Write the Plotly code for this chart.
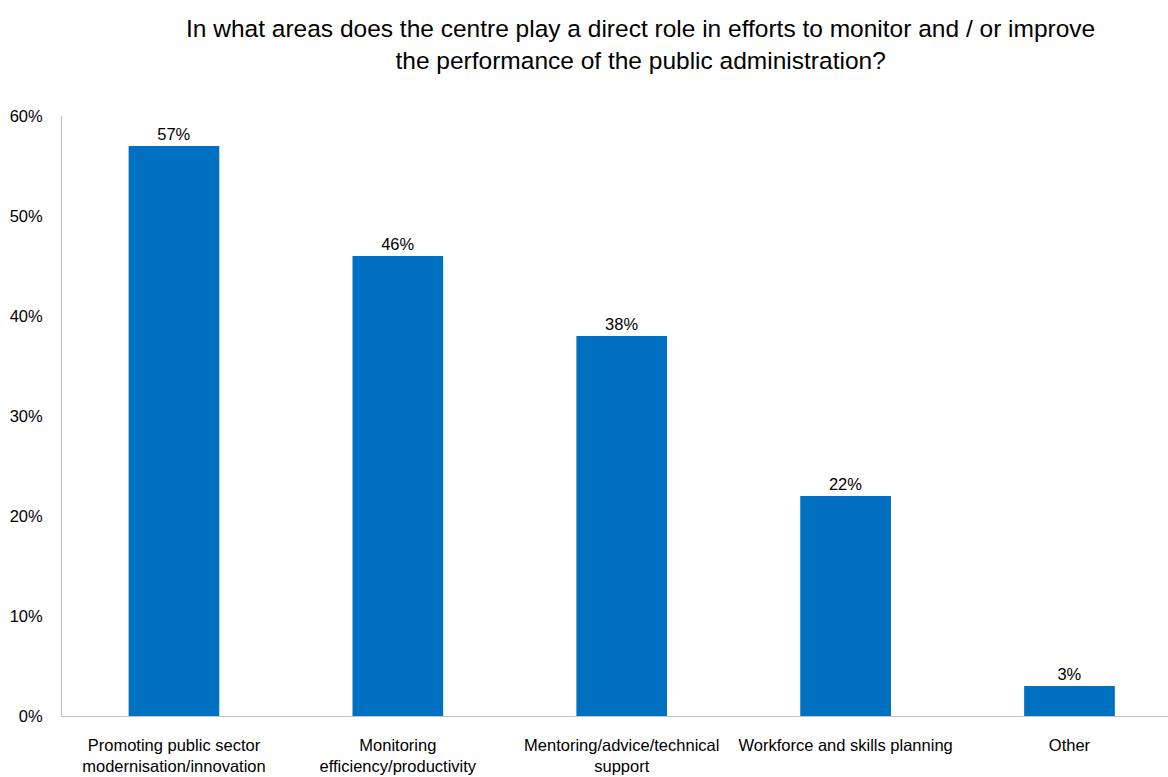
import plotly.graph_objects as go

categories = ["Promoting public sector<br>modernisation/innovation",
              "Monitoring<br>efficiency/productivity",
              "Mentoring/advice/technical<br>support",
              "Workforce and skills planning",
              "Other"]
values = [0.57, 0.46, 0.38, 0.22, 0.03]
value_labels = ["57%", "46%", "38%", "22%", "3%"]
y_ticks = [0, 0.1, 0.2, 0.3, 0.4, 0.5, 0.6]
y_tick_labels = ["0%", "10%", "20%", "30%", "40%", "50%", "60%"]
title_text = ("In what areas does the centre play a direct role in efforts to monitor and / or improve"
              "<br>the performance of the public administration?")

FONT = "Liberation Sans Narrow, Arial Narrow, Liberation Sans, Arial, sans-serif"

fig = go.Figure(go.Bar(
    x=list(range(len(categories))), y=values,
    marker=dict(color="#0070C0", line=dict(width=0)),
    width=0.405,
    text=value_labels, textposition="outside",
    textfont=dict(size=16.5, color="#000000", family=FONT),
    cliponaxis=False,
))

fig.add_annotation(
    text=title_text, xref="paper", yref="paper",
    x=(640 - 62) / 1106, y=1 + (116 - 45) / 600, xanchor="center", yanchor="middle",
    showarrow=False, align="center",
    font=dict(size=24.5, family=FONT, color="#000000"),
)

fig.update_layout(
    width=1168, height=777,
    margin=dict(l=62, r=0, t=116, b=61),
    paper_bgcolor="white", plot_bgcolor="white",
    font=dict(family=FONT, size=16, color="#000000"),
    showlegend=False,
    xaxis=dict(tickmode="array", tickvals=list(range(len(categories))), ticktext=categories,
               range=[-0.5, 4.44], showline=True, linecolor="#BFBFBF", linewidth=1,
               showgrid=False, zeroline=False, ticks="", ticklabelstandoff=14,
               tickfont=dict(size=16.5, family=FONT)),
    yaxis=dict(range=[0, 0.6], tickvals=y_ticks, ticktext=y_tick_labels,
               showline=True, linecolor="#BFBFBF", linewidth=1, showgrid=False,
               zeroline=False, ticks="", ticklabelstandoff=15, tickfont=dict(size=16.5, family=FONT)),
)

fig.write_html("out.html")
